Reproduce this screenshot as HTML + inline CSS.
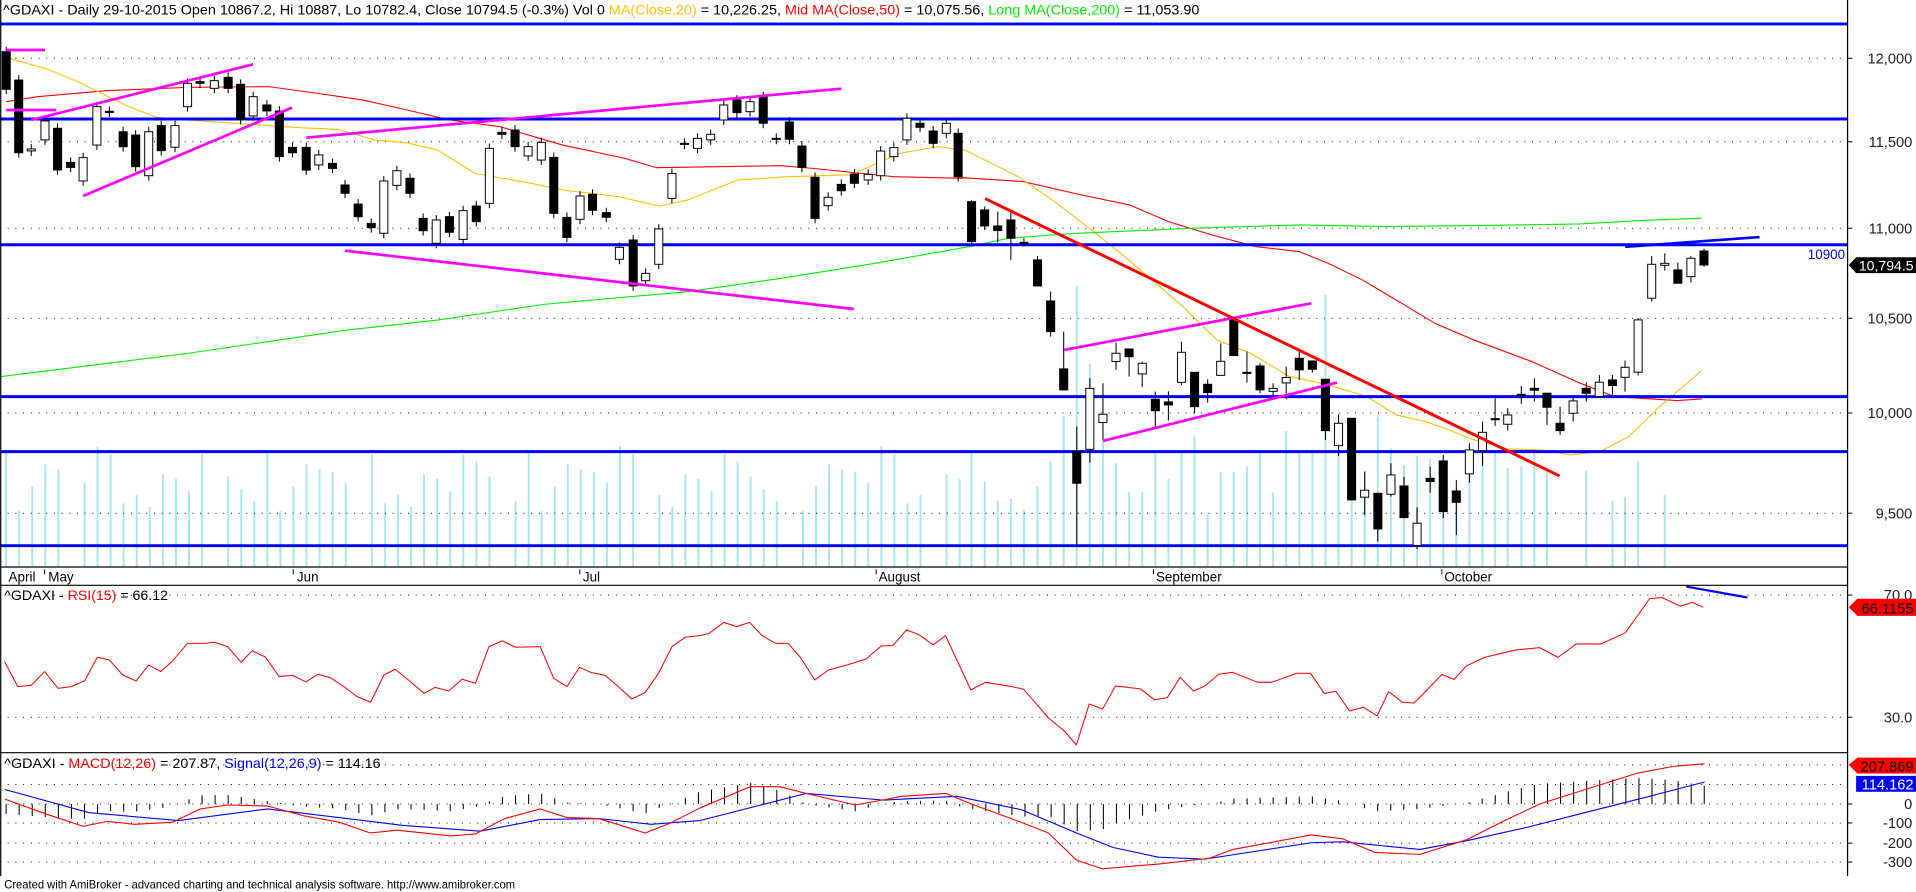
<!DOCTYPE html>
<html><head><meta charset="utf-8"><style>
html,body{margin:0;padding:0;background:#fff;overflow:hidden}
svg{display:block}
text{font-family:"Liberation Sans",Arial,sans-serif}
</style></head><body>
<svg id="s" width="1916" height="892" viewBox="0 0 1568 730" preserveAspectRatio="none" xmlns="http://www.w3.org/2000/svg"></svg>
<script>
var o=[];
function L(x1,y1,x2,y2,c,w,extra){o.push('<line x1="'+x1+'" y1="'+y1+'" x2="'+x2+'" y2="'+y2+'" stroke="'+c+'" stroke-width="'+w+'" '+(extra||'')+'/>');}
function P(pts,c,w){o.push('<polyline fill="none" stroke="'+c+'" stroke-width="'+w+'" stroke-linejoin="round" points="'+pts.map(function(p){return p[0].toFixed(1)+','+p[1].toFixed(1)}).join(' ')+'"/>');}
function T(x,y,s,size,anchor,fill,tl){o.push('<text x="'+x+'" y="'+y+'" font-size="'+size+'" fill="'+(fill||'#000')+'"'+(anchor?' text-anchor="'+anchor+'"':'')+(tl?' textLength="'+tl+'" lengthAdjust="spacingAndGlyphs"':'')+'>'+s+'</text>');}
var z8x=function(x){return x/1.955},z8y=function(y){return 24.55+y*0.2728};
var z6x=function(x){return 785.6+x*0.3967},z6y=function(y){return 122.7+y*0.2728};
var AX=1512;
var vol6={24:910,51:995,78:1052,105:1047,132:1078,160:1008,187:933,214:797,241:407,268:642,295:870,322:940,349:1025,376:1025,403:908,430:987,457:905,484:857,511:1090,538:965,565:965,592:950,619:905,646:1028,673:843,700:905,727:905,754:435,781:905,808:905,835:963,862:800,889:895,916:945,943:918,970:925,997:950,1024:1050,1051:888,1078:900,1104:910,1130:953,1158:950,1185:905,1211:965,1292:962,1346:1052,1372:1043,1399:933,1454:1035};
function bx(i){return 5+i*10.69;}
for(var i=0;i<74;i++){var h=[370,380,395,412,388,372,400,418,384,365,405,392,378,410,398,386,372,415,402,390][(i*7)%20];if(i%11==5)continue;L(bx(i),464,bx(i),h,'#a8e8ec',1.6);}
for(var k in vol6){var x=z6x(+k);L(x,464,x,z6y(vol6[k]),'#a8e8ec',1.6);}
var grid=[47.7,116,186.8,260.5,338,420,487,587,626,642,673.5,690,705.5,658];
grid.forEach(function(y){L(0,y,AX,y,'#000',0.8,'stroke-dasharray="0.8 5.5"');});
var red=[[10,215],[60,200],[170,182],[300,172],[430,170],[500,188],[580,210],[640,235],[720,270],[800,290],[900,345],[1000,385],[1050,413],[1150,410],[1250,407],[1300,415],[1380,430],[1430,440],[1540,445]].map(function(p){return[z8x(p[0]),z8y(p[1])]});
red=red.concat([[0,83],[130,95],[250,135],[350,165],[430,215],[520,255],[610,290],[700,305],[760,340],[830,390],[900,450],[980,520],[1060,570],[1180,635],[1280,700],[1350,740],[1400,745],[1480,752],[1530,747]].map(function(p){return[z6x(p[0]),z6y(p[1])]}));
P(red,'#ff0000',0.9);
var yel=[[15,85],[80,120],[130,160],[200,225],[250,262],[300,270],[400,283],[480,293],[540,298],[600,330],[650,338],[700,360],[760,430],[850,460],[900,480],[990,500],[1055,528],[1100,510],[1180,450],[1260,440],[1360,435],[1440,370],[1500,350],[1540,360]].map(function(p){return[z8x(p[0]),z8y(p[1])]});
yel=yel.concat([[10,0],[120,80],[200,160],[280,250],[340,320],[400,395],[460,470],[530,570],[600,610],[680,680],[760,705],[840,740],[900,795],[960,815],[1000,835],[1060,870],[1130,897],[1200,900],[1260,915],[1320,905],[1380,860],[1440,775],[1530,662]].map(function(p){return[z6x(p[0]),z6y(p[1])]}));
P(yel,'#ffc000',0.9);
var grn=[[0,1040],[300,970],[555,900],[700,870],[870,823],[960,808],[1100,785],[1250,745],[1400,700],[1550,650]].map(function(p){return[z8x(p[0]),z8y(p[1])]});
grn=grn.concat([[100,265],[240,250],[480,235],[700,225],[880,230],[1100,226],[1280,222],[1400,212],[1530,205]].map(function(p){return[z6x(p[0]),z6y(p[1])]}));
P(grn,'#00ee00',0.9);
[19.6,97.4,200.3,324.6,369.6,446.6].forEach(function(y){L(0,y,AX,y,'#0000ff',2.4);});
var c8=[[10,65,178,1],[30,150,368,1],[50,357,363,0],[72,273,330,0],[92,295,420,1],[113,397,412,1],[133,383,453,0],[155,230,345,0],[175,244,246,1],[197,305,350,1],[217,315,410,1],[238,305,437,0],[258,287,362,1],[280,287,352,0],[300,160,230,0],[320,155,160,1],[343,152,175,0],[365,142,175,1],[385,163,268,1],[405,200,258,0],[427,225,243,1],[447,243,380,1],[468,352,368,1],[490,352,420,1],[510,375,405,0],[532,400,415,1],[552,465,490,1],[573,522,560,1],[594,580,593,1],[614,453,610,0],[635,422,466,0],[656,445,490,1],[677,565,602,1],[698,570,640,0],[719,560,607,1],[741,542,628,0],[762,528,575,1],[783,355,520,0],[803,307,313,1],[824,300,350,1],[845,350,378,0],[866,337,390,0],[886,382,550,1],[907,562,622,1],[928,498,568,0],[948,493,541,1],[970,548,562,1],[991,652,688,0],[1013,630,768,1],[1033,730,752,0],[1054,597,703,0],[1075,430,505,0],[1095,340,343,1],[1116,325,355,0],[1137,313,330,0],[1158,225,270,0],[1179,210,248,1],[1200,215,245,0],[1221,200,280,1],[1242,325,328,1],[1263,276,328,1],[1283,348,412,1],[1304,442,565,1],[1325,502,527,0],[1346,463,482,1],[1367,432,460,1],[1389,433,450,0],[1409,363,437,0],[1430,353,380,0],[1451,265,330,0],[1472,280,292,1],[1493,303,340,1],[1514,280,310,0],[1533,310,440,1]];
var c6=[[24,155,275,1,150,290],[51,180,228,1,170,240],[78,228,242,1,185,278],[105,210,265,1,185,330],[132,277,282,1,265,290],[160,330,408,1,318,410],[187,453,545,1,425,560],[214,657,720,1,545,720],[241,905,1000,1,830,1190],[268,715,898,0,685,938],[295,793,818,0,700,870],[322,610,635,0,578,660],[349,597,620,1,597,680],[376,640,672,0,635,712],[403,748,782,1,725,830],[430,756,765,1,724,812],[457,607,697,0,575,705],[484,667,770,1,667,790],[511,703,728,1,688,758],[538,634,676,0,580,676],[565,510,617,1,505,617],[592,667,670,1,605,698],[619,648,720,1,640,730],[646,715,724,0,700,740],[673,683,699,0,650,748],[700,625,660,1,605,690],[727,633,658,1,633,668],[754,688,842,1,688,870],[781,820,887,0,793,918],[808,805,1050,1,805,1050],[835,1021,1042,0,965,1095],[862,1030,1137,1,1030,1175],[889,975,1033,0,940,1040],[916,1008,1103,1,980,1103],[943,1120,1187,0,1072,1197],[970,985,995,1,950,1028],[997,933,1085,1,915,1105],[1024,1023,1057,1,990,1155],[1051,900,972,0,880,998],[1078,847,902,0,815,948],[1104,806,808,1,745,828],[1130,795,823,0,775,842],[1158,733,737,1,708,762],[1185,715,721,1,685,755],[1211,730,772,1,730,825],[1238,820,842,1,770,855],[1265,753,790,0,740,815],[1292,715,730,1,697,755],[1319,697,740,0,675,740],[1346,690,707,1,675,735],[1372,652,682,0,632,725],[1399,510,667,0,505,677],[1427,343,445,0,318,455],[1454,340,346,0,310,362],[1481,360,400,1,338,400],[1508,325,380,0,318,398],[1535,303,345,1,296,350]];
var CW=6.6;
function candle(x,t,b,blk,hi,lo){
 L(x,hi,x,lo,'#000',0.85);
 var h=Math.max(b-t,0.9);
 o.push('<rect x="'+(x-CW/2).toFixed(1)+'" y="'+t.toFixed(1)+'" width="'+CW+'" height="'+h.toFixed(1)+'" fill="'+(blk?'#000':'#fff')+'" stroke="#000" stroke-width="0.8"/>');
}
c8.forEach(function(c){var t=z8y(c[1]),b=z8y(c[2]);candle(z8x(c[0]),t,b,c[3],t-4,b+4);});
c6.forEach(function(c){candle(z6x(c[0]),z6y(c[1]),z6y(c[2]),c[3],z6y(c[4]),z6y(c[5]));});
var M='#ff00ff';
[[10,60,72,60],[10,240,90,240],[50,270,405,103],[133,498,467,233],[490,323,1346,176],[552,662,1366,837]].forEach(function(l){L(z8x(l[0]),z8y(l[1]),z8x(l[2]),z8y(l[3]),M,2.2);});
[[215,600,725,460],[295,873,778,698]].forEach(function(l){L(z6x(l[0]),z6y(l[1]),z6x(l[2]),z6y(l[3]),M,2.2);});
L(z6x(52),z6y(146),z6x(1237),z6y(978),'#ff0000',2.4);
L(1330,202,1440,194,'#0000ff',2.2);
L(0.6,0,0.6,717,'#000',1);
L(AX,0,AX,717,'#000',1);
[464,479,616].forEach(function(y){L(0,y,AX,y,'#000',1);});
[['April',7,null],['May',39.5,36.5],['Jun',243,240],['Jul',477,474.5],['August',719,717],['September',946,944],['October',1182,1180]].forEach(function(d){T(d[1],476,d[0],11,null,'#000');if(d[2])L(d[2],466,d[2],470,'#000',0.8);});
var rz4=[[10,365],[40,440],[70,436],[100,395],[130,445],[160,440],[190,422],[218,352],[245,360],[275,405],[305,423],[333,375],[360,395],[385,365],[420,310],[460,310],[480,307],[510,320],[540,367],[565,332],[595,352],[625,410],[655,406],[685,426],[712,403],[740,413],[770,440],[800,470],[830,487],[860,405],[885,388],[915,420],[950,460],[975,442],[1005,453],[1035,418],[1065,430],[1095,320],[1125,303],[1155,322],[1210,320],[1240,415],[1270,440],[1298,382],[1325,398],[1355,406],[1385,440],[1415,477],[1445,458],[1475,400],[1505,320],[1535,292],[1568,287]].map(function(p){return[p[0]/2.737,(540+p[1]/3)/1.222]});
var rz5=[[20,145],[52,112],[80,125],[108,112],[135,152],[165,175],[192,175],[220,220],[250,285],[280,255],[320,240],[362,222],[395,183],[420,182],[450,135],[478,150],[508,180],[535,152],[590,315],[622,292],[680,305],[705,313],[760,400],[795,440],[820,480],[848,357],[877,372],[905,303],[960,312],[990,345],[1018,338],[1046,277],[1075,318],[1100,303],[1130,268],[1160,262],[1215,292],[1245,292],[1300,265],[1330,265],[1360,326],[1385,319],[1415,378],[1445,367],[1475,393],[1500,320],[1530,352],[1555,354],[1568,337]].map(function(p){return[(700+p[0]/2.178)/1.222,(585+p[1]/3)/1.222]});
var rsi=rz4.concat(rz5).concat([[1180,552],[1190,556],[1200,545],[1215,538],[1240,532],[1260,530],[1275,538],[1290,527],[1310,527],[1330,518],[1350,490],[1360,489],[1375,496],[1385,493],[1394,497]]);
P(rsi,'#ff0000',0.85);
L(1380,480,1430,489,'#0000ff',1.8);
var mr=[[4,25],[37,-50],[68,-115],[88,-90],[110,-105],[141,-95],[164,-25],[186,-5],[219,-10],[248,-60],[278,-95],[303,-150],[325,-135],[369,-165],[389,-155],[413,-75],[442,-25],[464,-70],[490,-75],[528,-150],[548,-100],[573,-20],[614,90],[638,90],[663,50],[700,-5],[738,40],[774,55],[795,0],[836,-95],[858,-150],[881,-290],[902,-335],[948,-310],[990,-280],[1009,-235],[1073,-160],[1099,-180],[1125,-250],[1162,-260],[1200,-185],[1230,-90],[1260,0],[1300,80],[1340,160],[1370,195],[1395,208]];
var mb=[[4,75],[73,-45],[146,-85],[219,-25],[329,-110],[393,-140],[442,-80],[490,-75],[533,-105],[573,-85],[660,55],[723,20],[783,40],[836,-30],[881,-150],[911,-225],[948,-275],[986,-285],[1073,-200],[1099,-195],[1162,-235],[1200,-190],[1250,-120],[1300,-40],[1350,40],[1395,114]];
function interp(a,x){for(var i=1;i<a.length;i++){if(x<=a[i][0]){var t=(x-a[i-1][0])/(a[i][0]-a[i-1][0]);return a[i-1][1]+t*(a[i][1]-a[i-1][1]);}}return a[a.length-1][1];}
var my=function(v){return 658-v*0.1583};
for(var i=0;i<131;i++){var x=bx(i);if(x<4||x>1395)continue;var d=interp(mr,x)-interp(mb,x);L(x,658,x,my(d),'#000',0.85);}
P(mb.map(function(p){return[p[0],my(p[1])]}),'#0000ff',0.9);
P(mr.map(function(p){return[p[0],my(p[1])]}),'#ff0000',0.9);
[['12,000',47.7],['11,500',116],['11,000',186.8],['10,500',260.5],['10,000',338],['9,500',420],['70.0',487],['30.0',587],['0',658],['-100',673.5],['-200',690],['-300',705.5]].forEach(function(l){L(AX,l[1],AX+4,l[1],'#000',0.8);T(1565,l[1]+4.2,l[0],12,'end','#222');});
T(1510,212,'10900',11,'end','#0000ff');
o.push('<polygon points="1513,217 1519,210.5 1568,210.5 1568,223.5 1519,223.5" fill="#000"/>');T(1566,221.5,'10,794.5',11.5,'end','#fff');
o.push('<polygon points="1513,497 1520,490 1568,490 1568,504 1520,504" fill="#ff0000"/>');T(1566,502,'66.1155',12,'end','#000');
o.push('<polygon points="1513,626 1520,620 1568,620 1568,633 1520,633" fill="#ff0000"/>');T(1566,631.5,'207.869',12,'end','#000');
o.push('<rect x="1519" y="635" width="49" height="13" fill="#0000ff"/>');T(1566,646,'114.162',12,'end','#fff');
o.push('<text x="2.5" y="12" font-size="11.5" textLength="979" lengthAdjust="spacingAndGlyphs">^GDAXI - Daily 29-10-2015 Open 10867.2, Hi 10887, Lo 10782.4, Close 10794.5 (-0.3%) Vol 0 <tspan fill="#ffc000">MA(Close,20)</tspan> = 10,226.25, <tspan fill="#ff0000">Mid MA(Close,50)</tspan> = 10,075.56, <tspan fill="#00ee00">Long MA(Close,200)</tspan> = 11,053.90</text>');
o.push('<text x="3.5" y="491" font-size="11.5" textLength="134" lengthAdjust="spacingAndGlyphs">^GDAXI - <tspan fill="#ff0000">RSI(15)</tspan> = 66.12</text>');
o.push('<text x="3.5" y="628.5" font-size="11.5" textLength="308" lengthAdjust="spacingAndGlyphs">^GDAXI - <tspan fill="#ff0000">MACD(12,26)</tspan> = 207.87, <tspan fill="#0000ff">Signal(12,26,9)</tspan> = 114.16</text>');
o.push('<text x="3.5" y="727" font-size="9.5" textLength="418" lengthAdjust="spacingAndGlyphs">Created with AmiBroker - advanced charting and technical analysis software. http://www.amibroker.com</text>');
document.getElementById('s').innerHTML=o.join('');
</script>
</body></html>
